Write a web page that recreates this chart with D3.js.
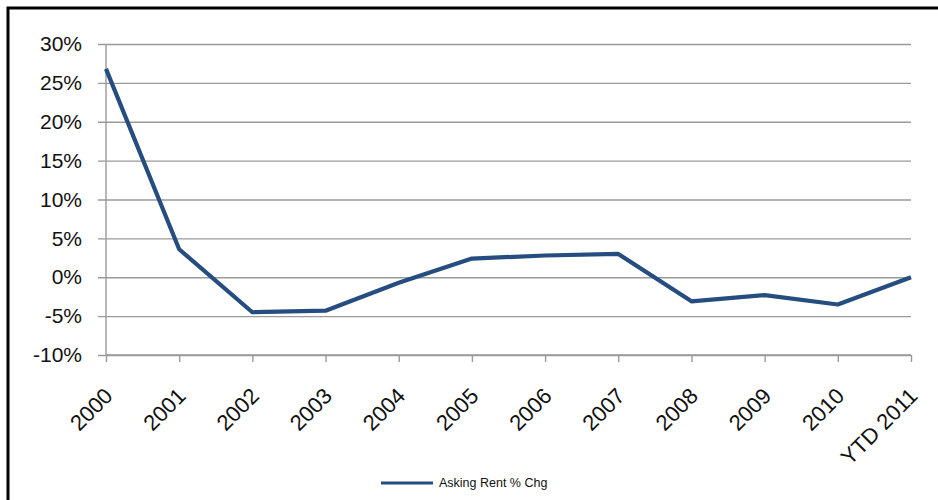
<!DOCTYPE html>
<html>
<head>
<meta charset="utf-8">
<script src="https://cdn.jsdelivr.net/npm/d3@7"></script>
<style>
  html, body { margin: 0; padding: 0; background: #fff; }
  svg { display: block; font-family: "Liberation Sans", Arial, sans-serif; }
</style>
</head>
<body>
<svg id="chart" width="938" height="500"></svg>
<script>
// Annual asking rent change
const categories = ["2000", "2001", "2002", "2003", "2004", "2005", "2006", "2007", "2008", "2009", "2010", "YTD 2011"];
const askingRentChg = [0.268, 0.036, -0.045, -0.043, -0.007, 0.024, 0.028, 0.030, -0.031, -0.023, -0.035, 0.000];
const yTicks = [-0.10, -0.05, 0, 0.05, 0.10, 0.15, 0.20, 0.25, 0.30];
const seriesName = "Asking Rent % Chg";

const svg = d3.select("#chart");
const gridColor = "#9a9a9a";
const lineColor = "#254d80";

const plot = { left: 106, right: 911, top: 44, bottom: 355 };

const x = d3.scalePoint().domain(categories).range([plot.left, plot.right]);
const y = d3.scaleLinear().domain([-0.10, 0.30]).range([plot.bottom, plot.top]);

// percent labels with a plain hyphen for negatives
const pct = d => `${Math.round(d * 100)}%`;

// outer frame
svg.append("rect")
  .attr("x", 8).attr("y", 8)
  .attr("width", 940).attr("height", 500)
  .attr("fill", "none").attr("stroke", "#000").attr("stroke-width", 3);

// horizontal gridlines with y axis labels
const yAxis = d3.axisLeft(y)
  .tickValues(yTicks)
  .tickSize(-(plot.right - plot.left))
  .tickPadding(0)
  .tickFormat(pct);

const gy = svg.append("g").attr("transform", `translate(${plot.left},0)`).call(yAxis);
gy.select(".domain").remove();
gy.selectAll(".tick line")
  .attr("x1", -8)
  .attr("stroke", gridColor).attr("stroke-width", 1.4);
gy.selectAll(".tick text")
  .attr("x", -24)
  .attr("font-size", 21)
  .attr("fill", "#111")
  .attr("font-family", "Liberation Sans, Arial, sans-serif");

// vertical axis line
svg.append("line")
  .attr("x1", plot.left).attr("x2", plot.left)
  .attr("y1", plot.top).attr("y2", plot.bottom)
  .attr("stroke", gridColor).attr("stroke-width", 1.4);

// category axis
const xAxis = d3.axisBottom(x).tickSize(7).tickPadding(0);
const gx = svg.append("g").attr("transform", `translate(0,${plot.bottom})`).call(xAxis);
gx.select(".domain")
  .attr("d", `M${plot.left},0H${plot.right}`)
  .attr("stroke", gridColor).attr("stroke-width", 1.4);
gx.selectAll(".tick line").attr("stroke", gridColor).attr("stroke-width", 1.4);
gx.selectAll(".tick text")
  .attr("font-size", 22)
  .attr("fill", "#111")
  .attr("font-family", "Liberation Sans, Arial, sans-serif")
  .attr("text-anchor", "end")
  .attr("dy", "0.35em")
  .attr("transform", "translate(2,37) rotate(-45)")
  .attr("y", 0).attr("x", 0);

// data line
const line = d3.line()
  .x((d, i) => x(categories[i]))
  .y(d => y(d));

svg.append("path")
  .datum(askingRentChg)
  .attr("d", line)
  .attr("fill", "none")
  .attr("stroke", lineColor)
  .attr("stroke-width", 4.2)
  .attr("stroke-linejoin", "round");

// legend
const lg = svg.append("g").attr("transform", "translate(381,483)");
lg.append("line").attr("x1", 0).attr("x2", 52).attr("y1", 0).attr("y2", 0)
  .attr("stroke", lineColor).attr("stroke-width", 3);
lg.append("text").attr("x", 58).attr("y", 0).attr("dy", "0.35em")
  .attr("font-size", 12.5).attr("fill", "#111")
  .text(seriesName);
</script>
</body>
</html>
